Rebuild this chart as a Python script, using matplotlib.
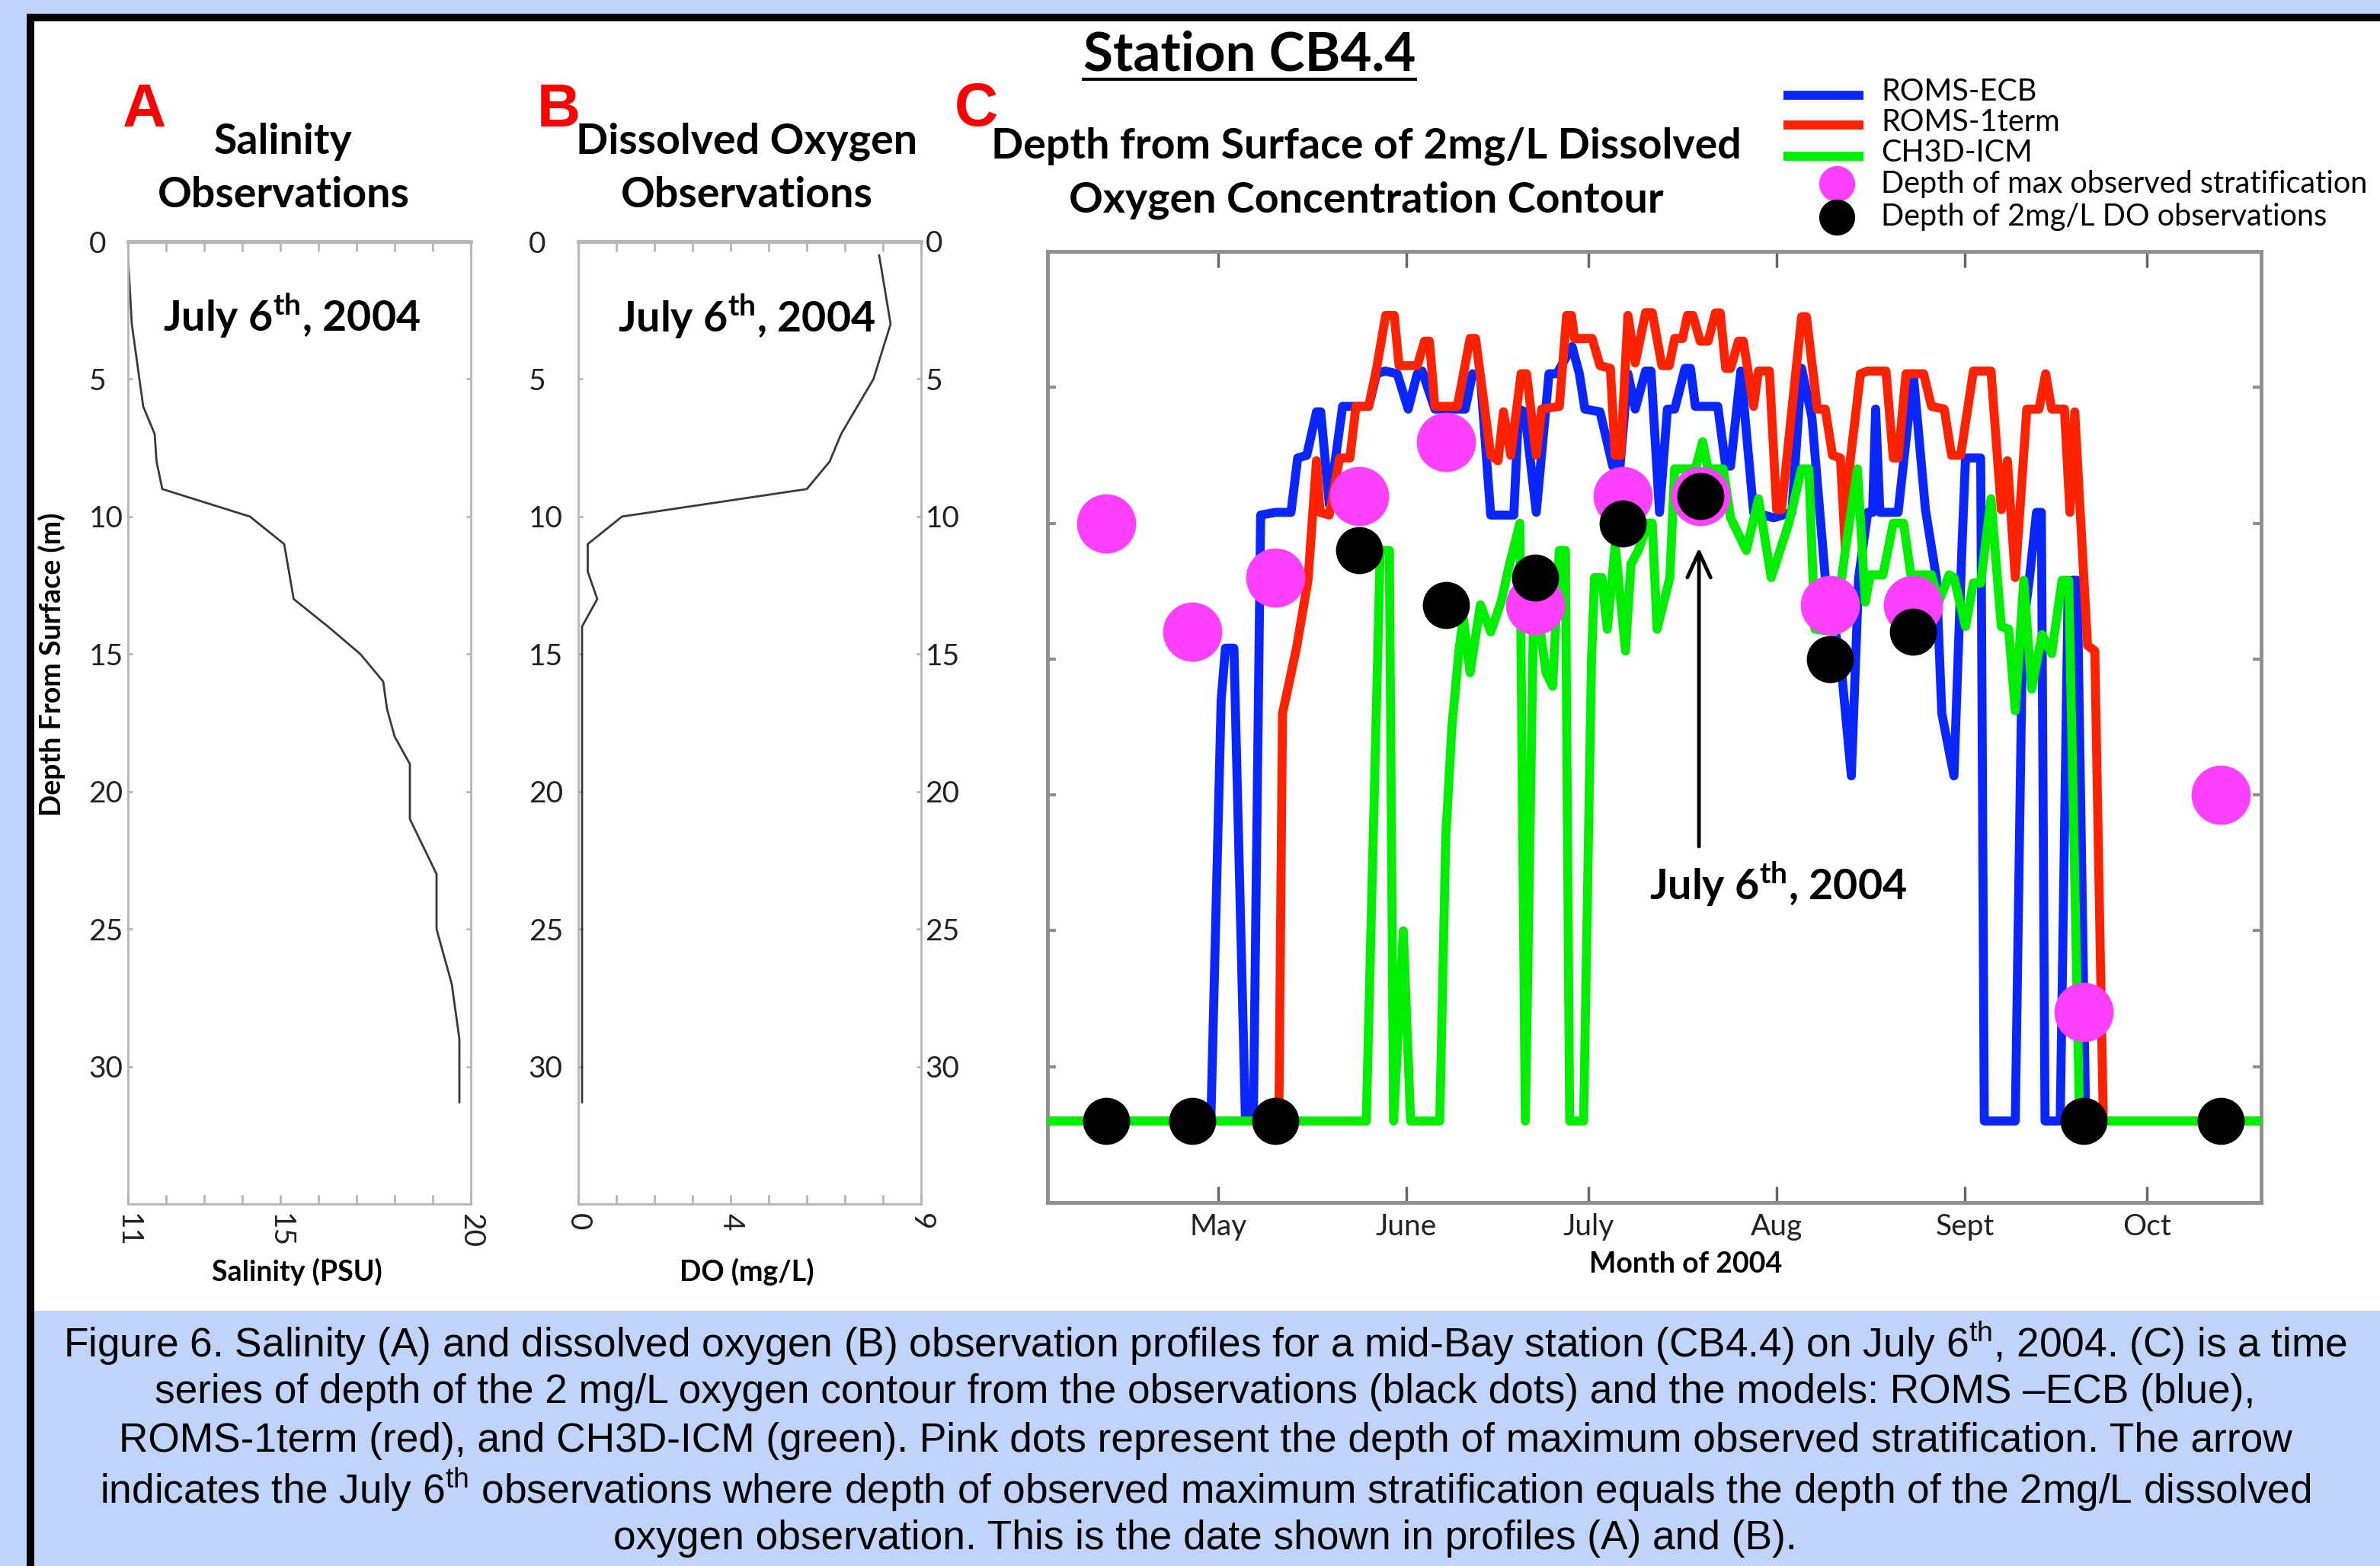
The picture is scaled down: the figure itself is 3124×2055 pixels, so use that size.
import matplotlib
matplotlib.use("Agg")
import matplotlib.pyplot as plt
from matplotlib.patches import Rectangle
from matplotlib.lines import Line2D
from matplotlib.ticker import FixedLocator, FixedFormatter

plt.rcParams['font.family'] = ['Lato', 'DejaVu Sans']
plt.rcParams['mathtext.fontset'] = 'custom'
plt.rcParams['mathtext.rm'] = 'Liberation Sans'
plt.rcParams['mathtext.bf'] = 'Lato:bold'

# ---------------- data ----------------
# Panel A: salinity profile (July 6th 2004)
sal_depth = [0.5, 3, 6, 7, 8, 9, 10, 11, 13, 14, 15, 16, 17, 18, 19, 21, 23, 25, 27, 29, 31.3]
sal_psu = [11.0, 11.1, 11.4, 11.7, 11.75, 11.9, 14.2, 15.1, 15.35, 16.25, 17.1, 17.7, 17.8,
           18.0, 18.4, 18.4, 19.1, 19.1, 19.5, 19.7, 19.7]

# Panel B: dissolved oxygen profile
do_depth = [0.5, 3, 5, 7, 8, 9, 10, 11, 12, 13, 14, 31.3]
do_mgl = [7.9, 8.2, 7.75, 6.9, 6.6, 6.0, 1.15, 0.25, 0.25, 0.5, 0.1, 0.1]

# Panel C: depth of 2 mg/L DO contour (day of year 2004)
blue_day = [94, 120.8, 122.5, 123.2, 124.6, 126.5, 127.8, 129.0, 131.5, 134.0, 135.1, 136.6,
            138.2, 138.9, 140.3, 142.5, 146.8, 148.1, 149.5, 151.5, 153.3, 154.8, 155.6, 157.7,
            162.7, 163.9, 165.2, 166.9, 170.7, 171.5, 172.5, 174.4, 176.5, 177.8, 180.3, 181.5,
            182.4, 184.9, 187.0, 188.2, 189.5, 190.7, 192.4, 193.3, 194.7, 196.0, 197.2, 198.9,
            199.8, 200.6, 204.3, 205.6, 206.4, 208.1, 210.2, 213.5, 216.5, 218.1, 219.8, 222.0,
            224.5, 226.3, 227.5, 229.0, 229.8, 230.3, 231.0, 234.0, 236.5, 238.5, 240.3, 241.2,
            243.2, 244.5, 245.1, 247.6, 248.2, 253.3, 254.5, 255.6, 256.8, 257.6, 258.2, 260.7,
            262.0, 262.7, 263.5, 264.9, 294]
blue_depth = [32, 32, 16.5, 14.6, 14.6, 32, 32, 9.7, 9.6, 9.6, 7.6, 7.5,
              5.9, 5.9, 9.3, 5.7, 5.7, 4.5, 4.4, 4.5, 5.8, 4.5, 4.4, 5.8,
              5.8, 4.5, 4.6, 9.7, 9.7, 5.8, 5.9, 9.6, 4.5, 4.5, 3.5, 4.5,
              5.8, 5.9, 7.9, 7.9, 4.5, 5.8, 4.4, 4.4, 9.6, 5.8, 5.8, 4.3,
              4.3, 5.7, 5.7, 7.9, 7.9, 4.4, 9.6, 9.8, 9.6, 4.3, 6.1, 12.0,
              15.0, 19.3, 12.0, 9.6, 9.6, 5.8, 9.6, 9.6, 4.5, 9.5, 12.0, 17.0,
              19.3, 11.0, 7.6, 7.6, 32, 32, 14.0, 12.1, 9.6, 9.6, 32, 32,
              12.5, 12.1, 12.1, 32, 32]

red_day = [94, 132.0, 132.6, 134.9, 136.8, 138.2, 138.8, 140.3, 142.0, 143.7, 144.7, 146.8,
           148.1, 149.6, 151.0, 151.8, 154.8, 156.0, 156.8, 157.7, 161.4, 163.5, 164.4, 166.9,
           168.1, 169.0, 170.2, 171.9, 172.8, 174.4, 175.3, 178.2, 179.4, 180.2, 180.7, 183.6,
           184.9, 186.6, 187.4, 188.3, 189.5, 190.7, 192.4, 193.5, 195.1, 196.3, 197.2, 198.5,
           199.3, 200.2, 201.4, 202.7, 203.9, 204.7, 205.6, 206.4, 207.7, 208.5, 210.2, 211.0,
           212.8, 214.0, 214.8, 218.1, 218.9, 220.7, 222.0, 223.2, 224.5, 225.3, 226.1, 227.8,
           229.0, 232.0, 233.2, 234.0, 235.3, 238.2, 239.5, 241.6, 242.8, 244.3, 246.4, 249.3,
           251.0, 252.0, 253.3, 255.2, 257.2, 258.3, 259.3, 261.4, 262.3, 263.1, 265.2, 266.4,
           267.8, 294]
red_depth = [32, 32, 17.0, 14.6, 12.1, 7.7, 9.6, 9.7, 7.6, 7.6, 5.7, 5.7,
             4.3, 2.35, 2.35, 4.2, 4.2, 3.3, 3.3, 5.7, 5.7, 3.2, 3.2, 7.5,
             7.7, 5.9, 7.5, 4.5, 4.5, 7.5, 5.8, 5.7, 2.35, 2.35, 3.2, 3.2,
             4.2, 4.3, 7.5, 7.5, 2.35, 4.1, 2.25, 2.25, 4.2, 4.2, 3.2, 3.2,
             2.35, 2.35, 3.3, 3.3, 2.26, 2.26, 4.3, 4.3, 3.3, 3.3, 5.7, 4.4,
             4.4, 9.5, 9.5, 2.4, 2.4, 5.8, 5.8, 7.5, 7.6, 10.9, 7.7, 4.5,
             4.4, 4.4, 7.6, 7.6, 4.5, 4.5, 5.7, 5.8, 7.5, 7.5, 4.4, 4.4,
             9.5, 7.7, 12.0, 5.8, 5.8, 4.5, 5.8, 5.8, 9.6, 5.9, 14.5, 14.7,
             32, 32]

green_day = [94, 146.4, 148.7, 150.2, 150.9, 152.5, 153.7, 158.5, 159.5, 160.5, 161.7, 162.4,
             163.5, 165.2, 166.9, 168.6, 170.0, 171.7, 172.6, 173.9, 174.8, 176.0, 177.1, 178.2,
             179.2, 179.9, 182.2, 183.5, 184.0, 185.2, 186.1, 187.4, 189.1, 190.0, 191.2, 192.8,
             193.5, 194.3, 196.4, 197.2, 200.6, 201.8, 202.7, 205.2, 206.4, 209.0, 211.0, 213.1,
             216.0, 218.1, 219.3, 220.3, 223.5, 225.3, 227.3, 228.6, 229.4, 231.5, 233.2, 234.9,
             236.1, 239.5, 240.7, 242.4, 243.2, 245.1, 246.4, 247.6, 249.3, 251.0, 252.2, 253.3,
             254.7, 256.0, 257.7, 259.3, 261.0, 262.1, 263.9, 294]
green_depth = [32, 32, 11.0, 11.0, 32, 25.0, 32, 32, 21.5, 17.5, 14.6, 13.5,
               15.5, 13.0, 14.0, 12.9, 11.5, 10.0, 32, 14.0, 13.5, 15.5, 16.0, 11.0,
               11.0, 32, 32, 15.0, 12.0, 12.0, 13.9, 10.8, 14.7, 11.5, 11.0, 10.0,
               10.0, 13.9, 12.0, 8.0, 8.0, 7.0, 8.0, 8.0, 9.8, 11.0, 9.1, 12.0,
               10.0, 8.0, 8.0, 13.9, 14.0, 11.0, 8.0, 12.9, 11.9, 11.9, 10.0, 10.0,
               11.9, 11.9, 12.9, 11.9, 12.0, 13.8, 12.2, 12.2, 9.1, 13.8, 13.9, 16.9,
               12.1, 16.1, 14.1, 14.8, 12.1, 12.1, 32, 32]

obs_day = [103.5, 117.8, 131.4, 145.2, 159.5, 174.2, 188.6, 201.4, 222.8, 236.4, 264.5, 287.1]
strat_depth = [10, 14, 12, 9, 7, 13, 9, 9, 13, 13, 28, 20]
do2_depth = [32, 32, 32, 11, 13, 12, 10, 9, 15, 14, 32, 32]

month_days = [122, 153, 183, 214, 245, 275]
month_labels = ['May', 'June', 'July', 'Aug', 'Sept', 'Oct']
depth_ticks = [0, 5, 10, 15, 20, 25, 30]

series_names = ['ROMS-ECB', 'ROMS-1term', 'CH3D-ICM']
marker_names = ['Depth of max observed stratification', 'Depth of 2mg/L DO observations']

# ---------------- styling ----------------
BG = '#c0d3fb'
BLUE, RED, GREEN, PINK = '#0a26ff', '#ff2200', '#00ee00', '#ff40ff'
LW = 8.5

W, H, DPI = 3124, 2055, 100
fig = plt.figure(figsize=(W / DPI, H / DPI), dpi=DPI)
fig.patch.set_facecolor(BG)


def fx(px):
    return px / W


def fy(py):
    return 1 - py / H


def rect(x0, y0, x1, y1):
    return [fx(x0), fy(y1), fx(x1) - fx(x0), fy(y0) - fy(y1)]


# white panel + black border
fig.add_artist(Rectangle((fx(40), fy(1720)), 1 - fx(40), fy(23) - fy(1720),
                         transform=fig.transFigure, fc='white', ec='none', zorder=-5))
fig.add_artist(Line2D([fx(36), 1], [fy(23), fy(23)], transform=fig.transFigure,
                      color='black', lw=7.2, solid_capstyle='butt', zorder=-4))
fig.add_artist(Line2D([fx(40), fx(40)], [fy(18), 0], transform=fig.transFigure,
                      color='black', lw=7.2, solid_capstyle='butt', zorder=-4))


def profile_axes(ax, x_ticks, xlabels_at, ylab_pad=37):
    for s in ax.spines.values():
        s.set_color('#b5b5b5')
        s.set_linewidth(2)
    ax.spines['top'].set_linewidth(3.5)
    ax.set_ylim(35, 0)
    ax.xaxis.set_major_locator(FixedLocator(x_ticks))
    ax.xaxis.set_major_formatter(FixedFormatter(
        [str(v) if v in xlabels_at else '' for v in x_ticks]))
    ax.tick_params(axis='x', direction='in', top=True, bottom=True, length=9, width=2,
                   color='#b5b5b5', labelsize=28, labelcolor='#222222', pad=9,
                   labelrotation=-90)
    for lab in ax.get_xticklabels():
        lab.set_va('top')
        lab.set_ha('center')
    ax.set_yticks(depth_ticks)
    ax.tick_params(axis='y', direction='in', left=True, right=True, length=4, width=2,
                   color='#b5b5b5', labelsize=28, labelcolor='#222222', pad=ylab_pad)
    for lab in ax.get_yticklabels():
        lab.set_ha('left')


# ---------------- Panel A ----------------
axA = fig.add_axes(rect(168, 317, 618, 1580))
axA.plot(sal_psu, sal_depth, color='#3a3a3a', lw=2.0)
axA.set_xlim(11, 20)
profile_axes(axA, list(range(11, 21)), [11, 15, 20], ylab_pad=37)
axA.set_xlabel('Salinity (PSU)', fontsize=27, fontweight='bold')
axA.xaxis.set_label_coords(0.493, -0.0705)
axA.xaxis.label.set_va('center')
axA.set_ylabel('Depth From Surface (m)', fontsize=27, fontweight='bold')
axA.yaxis.set_label_coords(-0.222, 0.5606)
axA.yaxis.label.set_va('center')
axA.text(0.478, 0.923, 'July 6$^{\\bf th}$, 2004', transform=axA.transAxes, ha='center',
         va='center', fontsize=40, fontweight='bold')

# ---------------- Panel B ----------------
axB = fig.add_axes(rect(759, 317, 1209, 1580))
axB.plot(do_mgl, do_depth, color='#3a3a3a', lw=2.0)
axB.set_xlim(0, 9)
profile_axes(axB, list(range(0, 10)), [0, 4, 9], ylab_pad=47)
secB = axB.secondary_yaxis('right')
secB.set_yticks(depth_ticks)
secB.tick_params(axis='y', length=0, pad=4, labelsize=28, labelcolor='#222222')
secB.spines['right'].set_visible(False)
axB.set_xlabel('DO (mg/L)', fontsize=27, fontweight='bold')
axB.xaxis.set_label_coords(0.491, -0.0705)
axB.xaxis.label.set_va('center')
axB.text(0.491, 0.922, 'July 6$^{\\bf th}$, 2004', transform=axB.transAxes, ha='center',
         va='center', fontsize=40, fontweight='bold')

# ---------------- Panel C ----------------
axC = fig.add_axes(rect(1375, 330, 2968, 1578))
axC.plot(blue_day, blue_depth, color=BLUE, lw=LW, solid_joinstyle='round', zorder=2)
axC.plot(red_day, red_depth, color=RED, lw=LW, solid_joinstyle='round', zorder=3)
axC.plot(green_day, green_depth, color=GREEN, lw=LW, solid_joinstyle='round', zorder=4)
axC.plot(obs_day, strat_depth, 'o', color=PINK, ms=56, mec='none', zorder=5)
axC.plot(obs_day, do2_depth, 'o', color='black', ms=44.5, mec='none', zorder=6)
axC.set_xlim(93.9, 293.8)
axC.set_ylim(35, 0)
for s in axC.spines.values():
    s.set_color('#8f8f8f')
    s.set_linewidth(3.5)
axC.set_xticks(month_days)
axC.set_xticklabels(month_labels)
axC.tick_params(axis='x', direction='in', top=True, bottom=True, length=15, width=2.5,
                color='#666666', labelsize=28, labelcolor='#222222', pad=10)
axC.set_yticks(depth_ticks[1:])
axC.tick_params(axis='y', direction='in', left=True, right=True, length=8, width=3,
                color='#8f8f8f', labelleft=False)
axC.set_xlabel('Month of 2004', fontsize=27, fontweight='bold')
axC.xaxis.set_label_coords(0.526, -0.0649)
axC.xaxis.label.set_va('center')
axC.annotate('', xy=(201.2, 10.9), xytext=(201.2, 21.9),
             arrowprops=dict(arrowstyle='->,head_length=1.2,head_width=0.55', lw=3.5,
                             color='black', mutation_scale=20, shrinkA=0, shrinkB=0),
             zorder=7)
axC.text(214.2, 23.3, 'July 6$^{\\bf th}$, 2004', ha='center', va='center', fontsize=40,
         fontweight='bold', zorder=7)

# ---------------- titles ----------------
for lx, letter in [(189, 'A'), (733, 'B'), (1281, 'C')]:
    fig.text(fx(lx), fy(145), letter, color='#ff0000', fontsize=57, fontweight='bold',
             family='Liberation Sans', ha='center', va='center')
fig.text(fx(372), fy(221), 'Salinity\nObservations', fontsize=40, fontweight='bold',
         ha='center', va='center', linespacing=1.5)
fig.text(fx(980), fy(221), 'Dissolved Oxygen\nObservations', fontsize=40, fontweight='bold',
         ha='center', va='center', linespacing=1.5)
fig.text(fx(1793), fy(227), 'Depth from Surface of 2mg/L Dissolved\nOxygen Concentration Contour',
         fontsize=40, fontweight='bold', ha='center', va='center', linespacing=1.5)
fig.text(fx(1640), fy(72), 'Station CB4.4', fontsize=51, fontweight='bold', ha='center',
         va='center')
fig.add_artist(Line2D([fx(1422), fx(1858)], [fy(104), fy(104)], transform=fig.transFigure,
                      color='black', lw=3))

# ---------------- legend ----------------
leg_rows = [125, 164, 205]
for yy, col, name in zip(leg_rows, [BLUE, RED, GREEN], series_names):
    fig.add_artist(Line2D([fx(2341), fx(2446)], [fy(yy), fy(yy)], transform=fig.transFigure,
                          color=col, lw=LW, solid_capstyle='butt'))
    fig.text(fx(2469), fy(yy - 4), name, fontsize=28.5, ha='left', va='center')
for yy, col, name in zip([241, 285], [PINK, 'black'], marker_names):
    fig.add_artist(Line2D([fx(2411)], [fy(yy)], transform=fig.transFigure, marker='o',
                          ms=34, color=col, mec='none', lw=0))
    fig.text(fx(2469), fy(yy), name, fontsize=28.5, ha='left', va='center')

# ---------------- caption ----------------
caption = [
    'Figure 6. Salinity (A) and dissolved oxygen (B) observation profiles for a mid-Bay station (CB4.4) on July 6$^{\\rm th}$, 2004. (C) is a time',
    'series of depth of the 2 mg/L oxygen contour from the observations (black dots) and the models: ROMS \u2013ECB (blue),',
    'ROMS-1term (red), and CH3D-ICM (green). Pink dots represent the depth of maximum observed stratification. The arrow',
    'indicates the July 6$^{\\rm th}$ observations where depth of observed maximum stratification equals the depth of the 2mg/L dissolved',
    'oxygen observation. This is the date shown in profiles (A) and (B).',
]
for i, line in enumerate(caption):
    fig.text(fx(1582), fy(1763 + 64 * i), line, fontsize=38.3, family='Liberation Sans',
             ha='center', va='center', color='black')

fig.savefig('out.png', dpi=DPI, facecolor=fig.get_facecolor())
